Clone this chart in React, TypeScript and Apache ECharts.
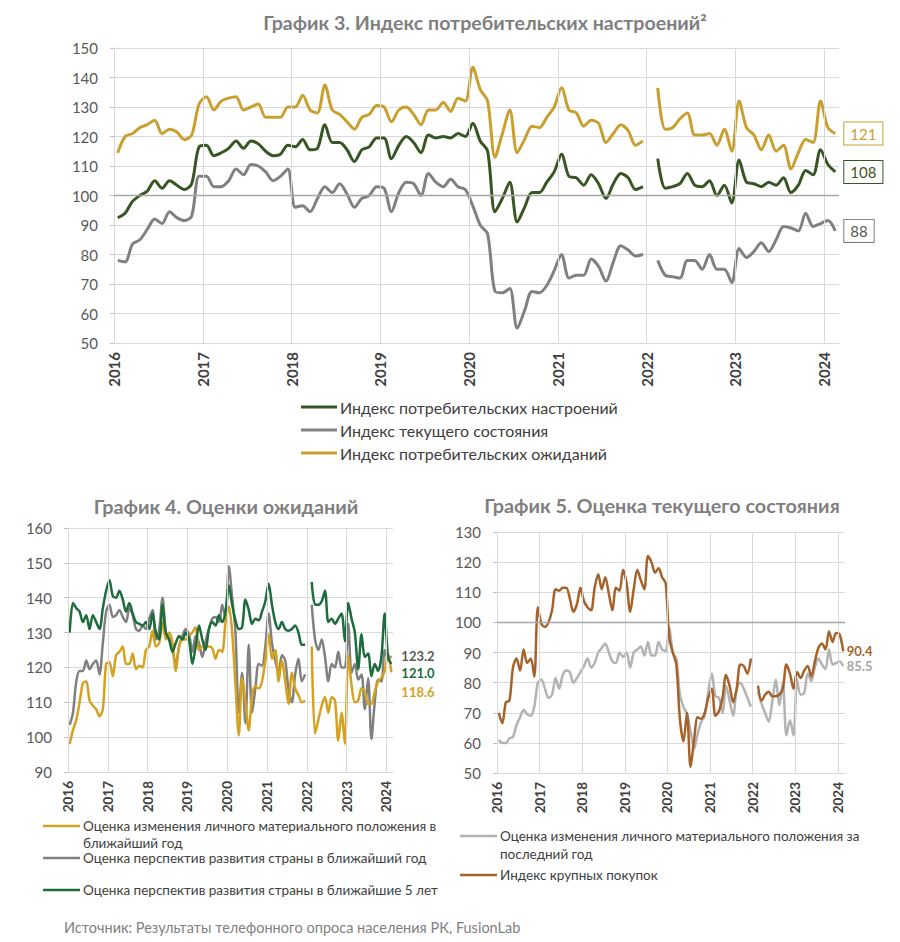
import React, { useEffect, useRef } from "react";
import * as echarts from "echarts";

const START_YEAR = 2016;
const YEAR_TICKS = [0, 12, 24, 36, 48, 60, 72, 84, 96];
const X_OFFSET = 0.5;

// Chart 3 (monthly, Jan 2016 – Feb 2024; Jan 2022 missing)
const sentiment = [92.5,94,98,100,101.5,105,102.5,105,103.5,102,
104,116.5,117,113.5,114.5,116,118.5,116,118.5,117.5,
115,113.5,114,117,116.5,119,115.5,116,124,118,
118,115.5,111.5,115.5,116.5,119.5,119.5,112.5,117,120,
118,114.5,120.5,119.5,120,119.5,121,120,124.5,118.5,
115,94.5,99,104.5,91,96,101,101,104.5,108,
114,106.5,106,103.5,107,104,99,104,107.5,106,
102,103,null,112.5,102.5,103,104,107.5,103.5,103,
105,100,103.5,97.5,112,104.5,104,103,104.5,103.5,
106,101,103.5,108.5,107,115.5,110.5,108];
const currentState = [78,77.5,83.5,85,88.5,92,90.5,94.5,92.5,91.5,
93,106.5,106.5,103,103,105,109,107,110.5,110,
108,105,106.5,109,96,96.5,94.5,99,103,101,
104,100.5,96,99,100,103,102.5,94.5,101,104.5,
104,100,107.5,104.5,103,105.5,103,102,96.5,90,
87,67.5,67,68.5,55,61,67.5,67,69.5,74.5,
80,72,73,73,78.5,76,71,77.5,83,81.5,
79.5,80,null,78,73,72.5,72,78,78,75,
80,75,75,70.5,82,79,81,84,81,85,
89.5,89,88,94,89.5,90.5,91.5,88];
const expectations = [114.5,120,121,123,124,125.5,121,122.5,121.5,119,
120.5,131,133.5,129,132,133,133.5,129,130,131,
126.5,126.5,126.5,130,130,134,129,128,137.5,129,
127.5,125,122.5,126.5,127.5,130.5,130,125,129,130,
127.5,124,129,129,131.5,128.5,133,132,143.5,136,
132,113,121,129,114.5,119,123.5,123,126.5,130,
136.5,129,128,123.5,125.5,124.5,118,121,124,122,
117,118.5,null,136.5,122.5,123,126,128,120.5,120.5,
121,117,122.5,115,132,123,120.5,115.5,120.5,115,
117,109,114.5,119,118,132,123,121];

// Chart 4
const personalNextYear = [98,102,105,110,115.5,116,110.5,109,108,106,
108,121,121.5,117.5,123.5,124.5,126,121,121,124,
119.5,120.5,120,125,126,130.5,126,127,133,128,
130,127,119,126,128,128,129,130,131.5,125,
126,126,126,125.5,122.5,125,124.5,133,137.5,130,
115,100.5,117,110,102,112,114.5,114,116,122,
129.5,122.5,125,116,122,116,109.5,118.5,114,112,
110,110.5,null,126,101,105,109,111.5,107,111.5,
110.5,99,107,98,123.5,115,110,110.5,114,113,
109.5,109.5,113,116,117,119,124,118.6];
const countryNextYear = [103.5,107,116,119,119,122,119.5,121,122,118,
127,136,138,134.5,135,136.5,134.5,133,137,135,
131,130.5,132,131,134,136.5,128,131,140,130,
128,125,121,126,129,131,129.5,124.5,129,127,
123,127.5,131,134,134.5,133,138,134,149,140,
130,107,118.5,104,126.5,107,114,121,120.5,126,
135.5,127,122,118.5,123.5,122,113.5,110,118,122.5,
116,118,null,138,128,125,128,123,116,121,
120,124.5,120,120,132.5,118.5,121,116.5,118,108,
117,99.5,110,116.5,116,125,122.5,123.2];
const country5Years = [130,138.5,137,136,133,135,131,135,133,131,
137,142,145,140.5,140,142,139.5,136,138.5,135.5,
133,132.5,132,133,131,135.5,130,128,138,130,
128,124.5,127,129,128,130,128,121,126,132,
128,125,131,133,132,135,133,136,143.5,138,
133.5,131,131.5,139.5,136.5,132.5,134,133.5,136,139,
144,138,133,131,133,131,130.5,131,132,130,
126.5,126.5,null,144.5,138,138,139,142,133,134,
132.5,134,135.5,127.5,138.5,134,130,119.5,129.5,123,
124,117.5,121,119,123,135.5,123,121];

// Chart 5
const personalPastYear = [61,60,60,61.5,62,66,68.5,71,69.5,69,
72,80,81,78,75,76,81.5,78,82.5,84,
83.5,80,81.5,83.5,85.5,88,85,86.5,90,91.5,
93,90,87,86.5,90,88.5,90,85,90,91,
92,89,93.5,89,89,93.5,91,90.5,98.5,90,
88,76,72,69.5,64,58,63,67,69,77,
83,75.5,75,70,79,74,69,78,80,78,
75,72,null,77,73,70,67,73.5,81,72.5,
80,62.5,67.5,62.5,81,76,76.5,83,80.5,85,
88,86,84.5,91,86,86.5,87,85.5];
const bigPurchases = [70,66.5,73.5,74,85,88,84,91,86.5,88,
82,105,99.5,98.5,100,104,111,110.5,111.5,111.5,
108,103.5,106,111.5,107,105,104,111.5,116,111,
115,109.5,104,111.5,110.5,117.5,113,103.5,111,117.5,
114,111,122,120,116.5,118,115,113,95,90,
86,68,60.5,70,52,61,68.5,68,70,75,
78,69,70.5,75,82.5,79,73.5,78,86,85.5,
83,88,null,79,74,76,77,75.5,75.5,76,
78,86,83,78,83.5,81.5,84,85.5,82,87,
91.5,93,91,97,93.5,96.5,96,90.4];

const FONT = "Lato, 'Open Sans', sans-serif";

const toPoints = (arr: (number | null)[]) =>
  arr.map((v, i) => [i + X_OFFSET, v]);

function gridLines(idx: number, darkHundred: boolean) {
  const data: any[] = YEAR_TICKS.map((v) => ({
    xAxis: v,
    lineStyle: { color: "#d9d9d9", width: 1, type: "solid" },
  }));
  if (darkHundred) {
    data.push({ yAxis: 100, lineStyle: { color: "#a6a6a6", width: 1.3, type: "solid" } });
  }
  return {
    type: "line",
    data: [],
    xAxisIndex: idx,
    yAxisIndex: idx,
    z: 1,
    silent: true,
    markLine: {
      silent: true,
      symbol: ["none", "none"],
      label: { show: false },
      animation: false,
      data,
    },
  };
}

function line(name: string, arr: (number | null)[], color: string, width: number, idx: number, endLabel?: any) {
  return {
    type: "line",
    name,
    data: toPoints(arr),
    xAxisIndex: idx,
    yAxisIndex: idx,
    showSymbol: false,
    symbol: "none",
    smooth: 0.3,
    connectNulls: false,
    lineStyle: { color, width },
    itemStyle: { color },
    z: 3,
    silent: true,
    endLabel: endLabel ? { show: true, ...endLabel } : { show: false },
  };
}

const boxLabel = (color: string, border: string) => ({
  formatter: (p: any) => String(Math.round(p.value[1])),
  color,
  fontSize: 15,
  fontFamily: FONT,
  borderColor: border,
  borderWidth: 1,
  padding: [4, 6, 3, 6],
  backgroundColor: "#ffffff",
  distance: 9,
});

const boldLabel = (color: string, distance: number, dy: number) => ({
  formatter: (p: any) => Number(p.value[1]).toFixed(1),
  color,
  fontSize: 13,
  fontWeight: "bold",
  fontFamily: FONT,
  distance,
  offset: [0, dy],
});

function legendItem(x1: number, x2: number, y: number, color: string, lw: number, lines: string[], tx: number, fs: number, lh: number) {
  const els: any[] = [
    { type: "line", shape: { x1, y1: y, x2, y2: y }, style: { stroke: color, lineWidth: lw }, silent: true },
  ];
  lines.forEach((t, k) => {
    els.push({
      type: "text",
      x: tx,
      y: y + k * lh,
      silent: true,
      style: {
        text: t,
        fill: "#404040",
        fontSize: fs,
        lineHeight: fs,
        fontFamily: FONT,
        verticalAlign: "middle",
        align: "left",
      },
    });
  });
  return els;
}

function titleText(text: string, x: number, y: number, fs: number) {
  return {
    type: "text",
    x,
    y,
    silent: true,
    style: { text, fill: "#7f7f7f", fontSize: fs, fontWeight: "bold", fontFamily: FONT, align: "center", verticalAlign: "middle" },
  };
}

export default function App() {
  const ref = useRef<HTMLDivElement>(null);
  useEffect(() => {
    if (!ref.current) return;
    const chart = echarts.init(ref.current, undefined, { renderer: "svg" });
    const grids = [
      { left: 114, top: 48, width: 725, height: 295 },
      { left: 68, top: 528, width: 325, height: 244 },
      { left: 497, top: 532, width: 348, height: 241 },
    ];
    const yRanges = [
      [50, 150],
      [90, 160],
      [50, 130],
    ];
    const option: any = {
      animation: false,
      backgroundColor: "#ffffff",
      textStyle: { fontFamily: FONT },
      grid: grids,
      xAxis: grids.map((_, i) => ({
        type: "value",
        gridIndex: i,
        min: 0,
        max: 98,
        interval: 12,
        axisLine: { show: true, onZero: false, lineStyle: { color: "#d9d9d9" } },
        axisTick: { show: false },
        splitLine: { show: false },
        axisLabel: {
          rotate: 90,
          margin: 9,
          fontSize: i === 0 ? 15 : 13.5,
          fontWeight: "bold",
          fontFamily: FONT,
          color: "#404040",
          showMaxLabel: false,
          formatter: (v: number) => (v % 12 === 0 ? String(START_YEAR + v / 12) : ""),
        },
      })),
      yAxis: grids.map((_, i) => ({
        type: "value",
        gridIndex: i,
        min: yRanges[i][0],
        max: yRanges[i][1],
        interval: 10,
        axisLine: { show: true, lineStyle: { color: "#bfbfbf" } },
        axisTick: { show: true, length: 4, lineStyle: { color: "#bfbfbf" } },
        splitLine: { show: true, lineStyle: { color: "#d9d9d9", width: 1 } },
        axisLabel: { fontSize: 15, color: "#595959", margin: 16, fontFamily: FONT },
      })),
      series: [
        gridLines(0, true),
        gridLines(1, false),
        gridLines(2, true),
        line("Индекс текущего состояния", currentState, "#808080", 3, 0, boxLabel("#595959", "#7f7f7f")),
        line("Индекс потребительских ожиданий", expectations, "#C9A030", 3, 0, boxLabel("#C9A030", "#C9A030")),
        line("Индекс потребительских настроений", sentiment, "#375623", 3, 0, boxLabel("#375623", "#375623")),
        line("Оценка перспектив развития страны в ближайший год", countryNextYear, "#808080", 2.5, 1, boldLabel("#595959", 10, 0)),
        line("Оценка изменения личного материального положения в ближайший год", personalNextYear, "#D4A21F", 2.5, 1, boldLabel("#D4A21F", 10, 20)),
        line("Оценка перспектив развития страны в ближайшие 5 лет", country5Years, "#1E6B3C", 2.5, 1, boldLabel("#1E6B3C", 10, 9)),
        line("Оценка изменения личного материального положения за последний год", personalPastYear, "#B3B3B3", 2.5, 2, boldLabel("#A6A6A6", 3.5, 0)),
        line("Индекс крупных покупок", bigPurchases, "#A5632B", 2.5, 2, boldLabel("#A5632B", 3.5, 0)),
      ],
      graphic: [
        titleText("График 3. Индекс потребительских настроений²", 485, 22, 19.6),
        titleText("График 4. Оценки ожиданий", 226, 506, 19.8),
        titleText("График 5. Оценка текущего состояния", 662, 505, 19.8),
        ...legendItem(301, 337, 407, "#375623", 3, ["Индекс потребительских настроений"], 340, 16, 0),
        ...legendItem(301, 337, 430, "#808080", 3, ["Индекс текущего состояния"], 340, 16, 0),
        ...legendItem(301, 337, 453, "#C9A030", 3, ["Индекс потребительских ожиданий"], 340, 16, 0),
        ...legendItem(43, 80, 826, "#D4A21F", 2.5, ["Оценка изменения личного материального положения в", "ближайший год"], 83, 13.5, 17),
        ...legendItem(43, 80, 858, "#808080", 2.5, ["Оценка перспектив развития страны в ближайший год"], 83, 13.5, 0),
        ...legendItem(43, 80, 890, "#1E6B3C", 2.5, ["Оценка перспектив развития страны в ближайшие 5 лет"], 83, 13.5, 0),
        ...legendItem(460, 497, 836, "#B3B3B3", 2.5, ["Оценка изменения личного материального положения за", "последний год"], 500, 13.5, 18),
        ...legendItem(460, 497, 875, "#A5632B", 2.5, ["Индекс крупных покупок"], 500, 13.5, 0),
        {
          type: "text",
          x: 64,
          y: 927,
          silent: true,
          style: {
            text: "Источник: Результаты телефонного опроса населения РК, FusionLab",
            fill: "#7f7f7f",
            fontSize: 14.5,
            fontFamily: FONT,
            verticalAlign: "middle",
            align: "left",
          },
        },
      ],
    };
    chart.setOption(option);
    return () => chart.dispose();
  }, []);
  return (
    <div
      ref={ref}
      style={{ position: "fixed", left: 0, top: 0, width: 900, height: 942, background: "#ffffff" }}
    />
  );
}
